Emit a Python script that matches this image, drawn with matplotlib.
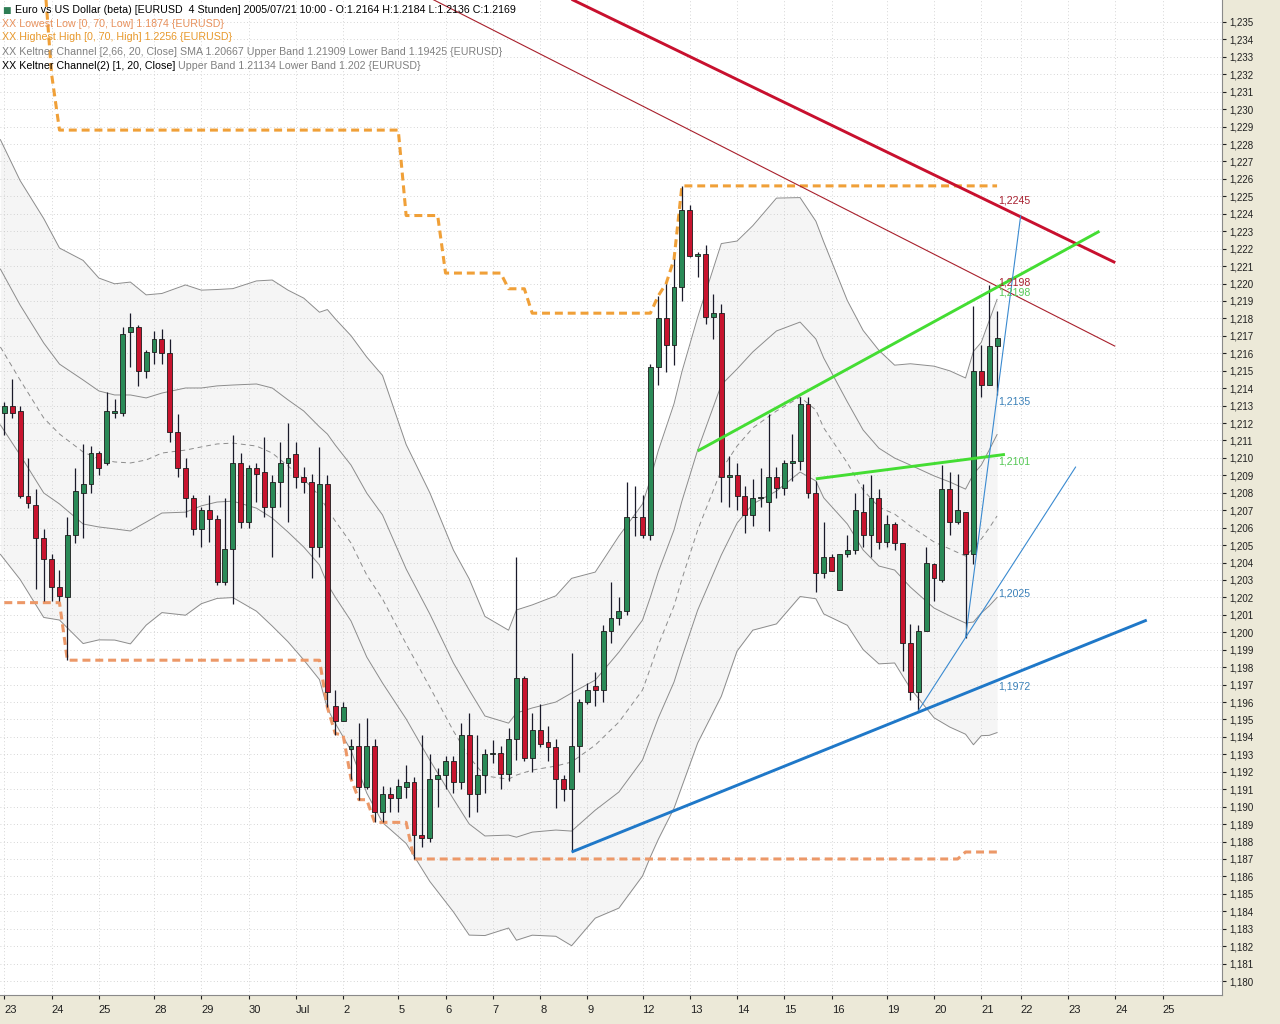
import numpy as np
import matplotlib
matplotlib.use("Agg")
import matplotlib.pyplot as plt

plt.rcParams['font.family'] = ['Liberation Sans', 'DejaVu Sans']

# ---------------- data (EURUSD, 4h bars, 23 Jun - 21 Jul 2005) ----------------
opens = [
    1.2126, 1.2130, 1.2127, 1.2078, 1.2073, 1.2054, 1.2042, 1.2026, 1.2020, 1.2056,
    1.2080, 1.2085, 1.2103, 1.2097, 1.2126, 1.2126, 1.2172, 1.2175, 1.2150, 1.2161,
    1.2168, 1.2160, 1.2115, 1.2094, 1.2077, 1.2059, 1.2070, 1.2065, 1.2029, 1.2048,
    1.2097, 1.2063, 1.2094, 1.2092, 1.2072, 1.2086, 1.2097, 1.2102, 1.2089, 1.2086,
    1.2049, 1.2085, 1.1958, 1.1949, 1.1933, 1.1935, 1.1911, 1.1935, 1.1897, 1.1907,
    1.1905, 1.1911, 1.1914, 1.1884, 1.1882, 1.1916, 1.1918, 1.1926, 1.1914, 1.1941,
    1.1907, 1.1918, 1.1930, 1.1931, 1.1919, 1.1939, 1.1974, 1.1928, 1.1944, 1.1937,
    1.1934, 1.1916, 1.1910, 1.1935, 1.1960, 1.1969, 1.1967, 1.2001, 1.2008, 1.2012,
    1.2066, 1.2066, 1.2056, 1.2152, 1.2180, 1.2165, 1.2198, 1.2242, 1.2216, 1.2217,
    1.2181, 1.2183, 1.2089, 1.2090, 1.2078, 1.2067, 1.2077, 1.2075, 1.2089, 1.2083,
    1.2097, 1.2098, 1.2131, 1.2080, 1.2034, 1.2043, 1.2024, 1.2045, 1.2047, 1.2069,
    1.2056, 1.2077, 1.2052, 1.2062, 1.2051, 1.1994, 1.1966, 1.2001, 1.2039, 1.2030,
    1.2082, 1.2063, 1.2069, 1.2045, 1.2150, 1.2142, 1.2164]
highs = [
    1.2132, 1.2145, 1.2130, 1.2100, 1.2082, 1.2059, 1.2045, 1.2036, 1.2066, 1.2094,
    1.2108, 1.2107, 1.2104, 1.2138, 1.2134, 1.2175, 1.2183, 1.2176, 1.2162, 1.2173,
    1.2174, 1.2168, 1.2125, 1.2100, 1.2079, 1.2072, 1.2079, 1.2067, 1.2077, 1.2113,
    1.2103, 1.2096, 1.2097, 1.2112, 1.2090, 1.2109, 1.2120, 1.2109, 1.2095, 1.2091,
    1.2106, 1.2090, 1.1967, 1.1960, 1.1939, 1.1948, 1.1951, 1.1939, 1.1912, 1.1911,
    1.1916, 1.1924, 1.1917, 1.1941, 1.1930, 1.1922, 1.1929, 1.1929, 1.1948, 1.1954,
    1.1941, 1.1933, 1.1938, 1.1935, 1.1945, 1.2043, 1.1975, 1.1954, 1.1959, 1.1946,
    1.1939, 1.1918, 1.1988, 1.1962, 1.1971, 1.1977, 1.2004, 1.2029, 1.2020, 1.2086,
    1.2084, 1.2079, 1.2154, 1.2193, 1.2200, 1.2214, 1.2256, 1.2245, 1.2218, 1.2222,
    1.2194, 1.2188, 1.2101, 1.2097, 1.2084, 1.2088, 1.2094, 1.2125, 1.2095, 1.2099,
    1.2114, 1.2135, 1.2135, 1.2087, 1.2063, 1.2045, 1.2045, 1.2056, 1.2080, 1.2085,
    1.2090, 1.2082, 1.2067, 1.2063, 1.2051, 1.2005, 1.2004, 1.2049, 1.2040, 1.2096,
    1.2092, 1.2091, 1.2069, 1.2187, 1.2165, 1.2199, 1.2184]
lows = [
    1.2113, 1.2123, 1.2077, 1.2071, 1.2025, 1.2018, 1.2018, 1.2018, 1.1984, 1.2051,
    1.2054, 1.2080, 1.2090, 1.2096, 1.2123, 1.2124, 1.2152, 1.2141, 1.2146, 1.2154,
    1.2154, 1.2109, 1.2089, 1.2066, 1.2056, 1.2049, 1.2052, 1.2027, 1.2027, 1.2016,
    1.2060, 1.2060, 1.2075, 1.2066, 1.2043, 1.2072, 1.2063, 1.2083, 1.2080, 1.2031,
    1.2043, 1.1957, 1.1941, 1.1949, 1.1916, 1.1904, 1.1910, 1.1891, 1.1891, 1.1897,
    1.1897, 1.1905, 1.1870, 1.1877, 1.1880, 1.1900, 1.1910, 1.1908, 1.1910, 1.1894,
    1.1897, 1.1908, 1.1925, 1.1910, 1.1915, 1.1927, 1.1926, 1.1920, 1.1934, 1.1926,
    1.1899, 1.1903, 1.1874, 1.1920, 1.1959, 1.1958, 1.1960, 1.1994, 1.2004, 1.2010,
    1.2055, 1.2054, 1.2053, 1.2142, 1.2149, 1.2153, 1.2190, 1.2215, 1.2204, 1.2177,
    1.2168, 1.2075, 1.2072, 1.2070, 1.2057, 1.2061, 1.2072, 1.2058, 1.2077, 1.2079,
    1.2087, 1.2093, 1.2077, 1.2023, 1.2031, 1.2035, 1.2024, 1.2043, 1.2045, 1.2049,
    1.2043, 1.2048, 1.2049, 1.2047, 1.1978, 1.1961, 1.1955, 1.2001, 1.2018, 1.2029,
    1.2056, 1.2062, 1.1997, 1.2039, 1.2135, 1.2142, 1.2136]
closes = [
    1.2130, 1.2126, 1.2078, 1.2074, 1.2054, 1.2042, 1.2026, 1.2021, 1.2056, 1.2081,
    1.2085, 1.2103, 1.2094, 1.2127, 1.2127, 1.2171, 1.2175, 1.2150, 1.2161, 1.2168,
    1.2160, 1.2115, 1.2094, 1.2077, 1.2059, 1.2070, 1.2065, 1.2029, 1.2048, 1.2097,
    1.2063, 1.2094, 1.2091, 1.2072, 1.2086, 1.2097, 1.2100, 1.2089, 1.2086, 1.2049,
    1.2085, 1.1966, 1.1949, 1.1957, 1.1935, 1.1911, 1.1935, 1.1897, 1.1907, 1.1905,
    1.1912, 1.1914, 1.1884, 1.1882, 1.1916, 1.1918, 1.1926, 1.1914, 1.1941, 1.1907,
    1.1918, 1.1930, 1.1931, 1.1919, 1.1939, 1.1974, 1.1928, 1.1944, 1.1936, 1.1934,
    1.1916, 1.1910, 1.1935, 1.1960, 1.1967, 1.1967, 1.2001, 1.2008, 1.2012, 1.2066,
    1.2066, 1.2056, 1.2152, 1.2180, 1.2165, 1.2198, 1.2242, 1.2216, 1.2217, 1.2181,
    1.2183, 1.2089, 1.2090, 1.2078, 1.2067, 1.2077, 1.2077, 1.2089, 1.2083, 1.2097,
    1.2098, 1.2131, 1.2080, 1.2034, 1.2043, 1.2035, 1.2045, 1.2047, 1.2070, 1.2056,
    1.2077, 1.2052, 1.2062, 1.2051, 1.1994, 1.1966, 1.2001, 1.2040, 1.2031, 1.2082,
    1.2063, 1.2070, 1.2045, 1.2150, 1.2142, 1.2164, 1.2169]

# Highest High [0,70,High] and Lowest Low [0,70,Low] per bar
highest_high = ([1.2380] * 6 + [1.2320] + [1.2288] * 44 + [1.2239] * 5 + [1.2206] * 8
                + [1.2197] * 3 + [1.2183] * 16 + [1.2193, 1.2200, 1.2214] + [1.2256] * 41)
lowest_low = ([1.2017] * 8 + [1.1984] * 33
              + [1.1957, 1.1942, 1.1941, 1.1916, 1.1904, 1.1904, 1.1891] + [1.1891] * 4
              + [1.1870] * 70 + [1.1874] * 5)

# Keltner channel: centre SMA and band unit (ATR) read at sample bars
kc_bars = [-0.5, 2, 5, 7, 10, 12, 14, 16, 18, 20, 23, 25, 27, 29, 32, 34, 36, 38, 40, 41,
           42, 44, 46, 48, 51, 54, 57, 59, 61, 64, 65, 67, 70, 72, 75, 78, 81, 82, 83, 85,
           86, 88, 91, 93, 95, 98, 101, 103, 104, 107, 109, 111, 113, 115, 118, 120, 122, 123, 124, 125,
           126]
kc_mid = [1.21636, 1.21447, 1.21229, 1.21137, 1.21034, 1.20994, 1.20977, 1.20971, 1.20988, 1.21028,
          1.21045, 1.21063, 1.21080, 1.21085, 1.21068, 1.21028, 1.20954, 1.20879, 1.20782, 1.20707,
          1.20638, 1.20512, 1.20328, 1.20191, 1.19933, 1.19686, 1.19434, 1.19285, 1.19176, 1.19158,
          1.19181, 1.19210, 1.19233, 1.19256, 1.19353, 1.19485, 1.19669, 1.19795, 1.19927, 1.20151,
          1.20305, 1.20586, 1.20931, 1.21068, 1.21172, 1.21269, 1.21349, 1.21275, 1.21172, 1.20971,
          1.20816, 1.20718, 1.20678, 1.20609, 1.20518, 1.20478, 1.20437, 1.20483, 1.20535, 1.20598,
          1.20667]
kc_atr = [0.00447, 0.00430, 0.00430, 0.00401, 0.00413, 0.00390, 0.00384, 0.00390, 0.00356, 0.00344,
          0.00356, 0.00338, 0.00333, 0.00333, 0.00356, 0.00373, 0.00379, 0.00390, 0.00396, 0.00430,
          0.00436, 0.00447, 0.00470, 0.00482, 0.00430, 0.00419, 0.00390, 0.00384, 0.00344, 0.00321,
          0.00356, 0.00356, 0.00367, 0.00396, 0.00373, 0.00401, 0.00401, 0.00407, 0.00419, 0.00436,
          0.00447, 0.00459, 0.00488, 0.00442, 0.00436, 0.00459, 0.00430, 0.00407, 0.00401, 0.00350,
          0.00344, 0.00338, 0.00321, 0.00350, 0.00379, 0.00384, 0.00384, 0.00424, 0.00424, 0.00447,
          0.00467]
kc_outer_mult = 2.66
kc_inner_mult = 1.0

# x axis (bar index of each day start) and labels
day_ticks = [0, 6, 12, 19, 25, 31, 37, 43, 50, 56, 62, 68, 74, 81, 87, 93, 99, 105, 112, 118,
             124, 129, 135, 141, 147]
day_labels = ["23", "24", "25", "28", "29", "30", "Jul", "2", "5", "6", "7", "8", "9", "12", "13",
              "14", "15", "16", "19", "20", "21", "22", "23", "24", "25"]

# drawn trend lines: start/end (bar, price)
trend_x0 = [72, 50, 88, 103, 72, 116, 122]
trend_p0 = [1.2363, 1.2373, 1.2104, 1.2088, 1.1874, 1.1955, 1.1997]
trend_x1 = [141, 141, 139, 127, 145, 136, 129]
trend_p1 = [1.2212, 1.2164, 1.2230, 1.2102, 1.2007, 1.2095, 1.2239]
trend_colors = ['#C8102E', '#A8202C', '#44DD33', '#44DD33', '#1F78C8', '#3A8AD0', '#3A8AD0']
trend_widths = [2.1, 0.8, 2.1, 2.1, 2.1, 0.8, 0.8]

# value labels at the last bar
label_values = [1.2245, 1.2198, 1.2198, 1.2135, 1.2101, 1.2025, 1.1972]
label_colors = ['#A82030', '#A82030', '#55C855', '#3A80B8', '#55C855', '#3A80B8', '#3A80B8']
label_va = ['bottom', 'bottom', 'top', 'top', 'top', 'top', 'top']
label_bar = 126.1

# ---------------- figure ----------------
W, H = 1280, 1024
fig = plt.figure(figsize=(W / 100, H / 100), dpi=100, facecolor='#ECE9D8')
ax = fig.add_axes([0, 29 / H, 1222 / W, 995 / H])
ax.set_facecolor('white')
ax.set_xlim(-0.55, 154.55)
ax.set_ylim(1.17920, 1.23626)

yt = np.round(np.arange(1.180, 1.2355, 0.001), 3)
ax.yaxis.tick_right()
ax.set_yticks(yt)
ax.set_yticklabels([f"{v:.3f}".replace('.', ',') for v in yt])
ax.tick_params(axis='y', length=3, width=0.8, pad=2, labelsize=7.0, colors='#202020')
ax.set_xticks(day_ticks)
ax.set_xticklabels(day_labels, ha='left')
ax.tick_params(axis='x', length=3, width=0.8, pad=4, labelsize=8.0, colors='#202020')
for s in ['top', 'left']:
    ax.spines[s].set_visible(False)
for s in ['right', 'bottom']:
    ax.spines[s].set_color('#8A8A8A')
    ax.spines[s].set_linewidth(0.8)
ax.set_axisbelow(True)
ax.grid(True, color='#C8C8C8', lw=0.6, ls=(0, (1, 3)))

# Keltner channels
mid = np.array(kc_mid)
atr = np.array(kc_atr)
ou = mid + kc_outer_mult * atr
ol = mid - kc_outer_mult * atr
iu = mid + kc_inner_mult * atr
il = mid - kc_inner_mult * atr
ax.fill_between(kc_bars, ol, ou, color='#F5F5F5', lw=0, zorder=0.3)
for band in (ou, ol, iu, il):
    ax.plot(kc_bars, band, color='#8C8C8C', lw=0.7, zorder=1)
ax.plot(kc_bars, mid, color='#8C8C8C', lw=0.7, ls=(0, (5, 4)), zorder=1)

# Highest high / lowest low
bars = np.arange(len(opens))
ax.plot(bars, highest_high, color='#F0A038', lw=2.2, ls=(0, (2.6, 1.6)), zorder=3)
ax.plot(bars, lowest_low, color='#EC9868', lw=2.2, ls=(0, (2.6, 1.6)), zorder=3)

# Candles
o = np.array(opens); c = np.array(closes); h = np.array(highs); l = np.array(lows)
up = c >= o
ax.vlines(bars, l, h, color='#1A1A2A', lw=0.9, zorder=4)
bottom = np.minimum(o, c)
height = np.maximum(np.abs(c - o), 0.00004)
ax.bar(bars, height, bottom=bottom, width=0.62,
       color=np.where(up, '#2A8A57', '#C8142E'), edgecolor='#1C1C1C', linewidth=0.6, zorder=5)

# Trend lines
for x0, p0, x1, p1, col, lw in zip(trend_x0, trend_p0, trend_x1, trend_p1, trend_colors, trend_widths):
    ax.plot([x0, x1], [p0, p1], color=col, lw=lw, zorder=6, solid_capstyle='butt')

for v, col, va in zip(label_values, label_colors, label_va):
    ax.text(label_bar, v, f"{v:.4f}".replace('.', ','), color=col, fontsize=7.6,
            va=va, ha='left', zorder=7)

# Header / legend text
def fx(px):
    return px / W

def fy(py):
    return 1 - py / H

fs = 7.7
fig.text(fx(2), fy(10), "\u25A0", color='#2E7D55', fontsize=6.5, va='center', ha='left',
         family=['DejaVu Sans'])
fig.text(fx(15), fy(10), "Euro vs US Dollar (beta) [EURUSD  4 Stunden] 2005/07/21 10:00 - "
         "O:1.2164 H:1.2184 L:1.2136 C:1.2169", color='#000000', fontsize=fs, va='center')
fig.text(fx(2), fy(24), "XX Lowest Low [0, 70, Low] 1.1874 {EURUSD}", color='#E8915C',
         fontsize=fs, va='center')
fig.text(fx(2), fy(37), "XX Highest High [0, 70, High] 1.2256 {EURUSD}", color='#E8992C',
         fontsize=fs, va='center')
fig.text(fx(2), fy(52), "XX Keltner Channel [2,66, 20, Close] SMA 1.20667 Upper Band 1.21909 "
         "Lower Band 1.19425 {EURUSD}", color='#808080', fontsize=fs, va='center')
t5 = fig.text(fx(2), fy(66), "XX Keltner Channel(2) [1, 20, Close]", color='#000000',
              fontsize=fs, va='center')
ax.annotate(" Upper Band 1.21134 Lower Band 1.202 {EURUSD}", xy=(1, 0.5), xycoords=t5,
            va='center', ha='left', color='#808080', fontsize=fs, annotation_clip=False)

fig.savefig("out.png", dpi=100, facecolor=fig.get_facecolor())
